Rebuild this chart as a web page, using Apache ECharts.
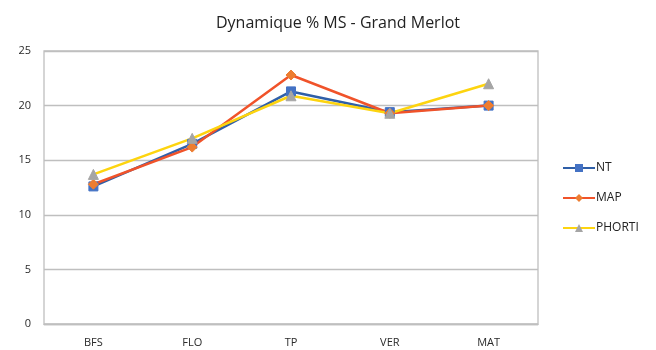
<!DOCTYPE html>
<html>
<head>
<meta charset="utf-8">
<script src="https://cdn.jsdelivr.net/npm/echarts@6/dist/echarts.min.js"></script>
<style>
  html, body { margin: 0; padding: 0; background: #fff; }
  #chart { width: 656px; height: 350px; }
</style>
</head>
<body>
<div id="chart"></div>
<script>
// Stades phénologiques
const stages = ['BFS', 'FLO', 'TP', 'VER', 'MAT'];

// % matière sèche par modalité
const ntValues = [12.6, 16.5, 21.3, 19.4, 20.0];
const mapValues = [12.8, 16.2, 22.8, 19.3, 20.0];
const phortiValues = [13.7, 17.0, 20.9, 19.3, 22.0];

const yTicks = { min: 0, max: 25, interval: 5 };

const font = 'Open Sans, Liberation Sans, sans-serif';
const gridColor = '#bfbfbf';

function lineSeries(name, data, lineColor, markerColor, symbol, size) {
  return {
    name: name,
    type: 'line',
    data: data,
    symbol: symbol,
    symbolSize: size,
    lineStyle: { color: lineColor, width: 2.5 },
    itemStyle: { color: markerColor, borderColor: markerColor },
    emphasis: { disabled: true }
  };
}

const chart = echarts.init(document.getElementById('chart'), null, { renderer: 'canvas' });
chart.setOption({
  animation: false,
  backgroundColor: '#ffffff',
  title: {
    text: 'Dynamique % MS - Grand Merlot',
    left: 333,
    textAlign: 'center',
    top: 10,
    textStyle: { fontFamily: font, fontSize: 16, fontWeight: 'normal', color: '#222' }
  },
  legend: {
    orient: 'vertical',
    left: 557,
    top: 157,
    itemGap: 18,
    itemWidth: 32,
    itemHeight: 10,
    textStyle: { fontFamily: font, fontSize: 12, color: '#222', padding: [0, 0, 0, -4] },
    data: ['NT', 'MAP', 'PHORTI']
  },
  grid: {
    left: 44, right: 118, top: 51, bottom: 26,
    show: true, borderColor: gridColor, borderWidth: 1.3
  },
  xAxis: {
    type: 'category',
    data: stages,
    boundaryGap: true,
    axisLine: { show: true, lineStyle: { color: gridColor, width: 1.3 } },
    axisTick: { show: false },
    axisLabel: { fontFamily: font, fontSize: 11, color: '#2a2a2a', margin: 13 }
  },
  yAxis: {
    type: 'value',
    min: yTicks.min, max: yTicks.max, interval: yTicks.interval,
    axisLine: { show: false },
    axisTick: { show: false },
    splitLine: { lineStyle: { color: gridColor, width: 1.3 } },
    axisLabel: { fontFamily: font, fontSize: 11, color: '#2a2a2a', margin: 13 }
  },
  series: [
    lineSeries('NT', ntValues, '#2f5fa8', '#4472c4', 'rect', 9),
    lineSeries('MAP', mapValues, '#f0532a', '#ed7d31', 'diamond', 10),
    lineSeries('PHORTI', phortiValues, '#fdd40f', '#a5a5a5', 'triangle', 10)
  ]
});
</script>
</body>
</html>
